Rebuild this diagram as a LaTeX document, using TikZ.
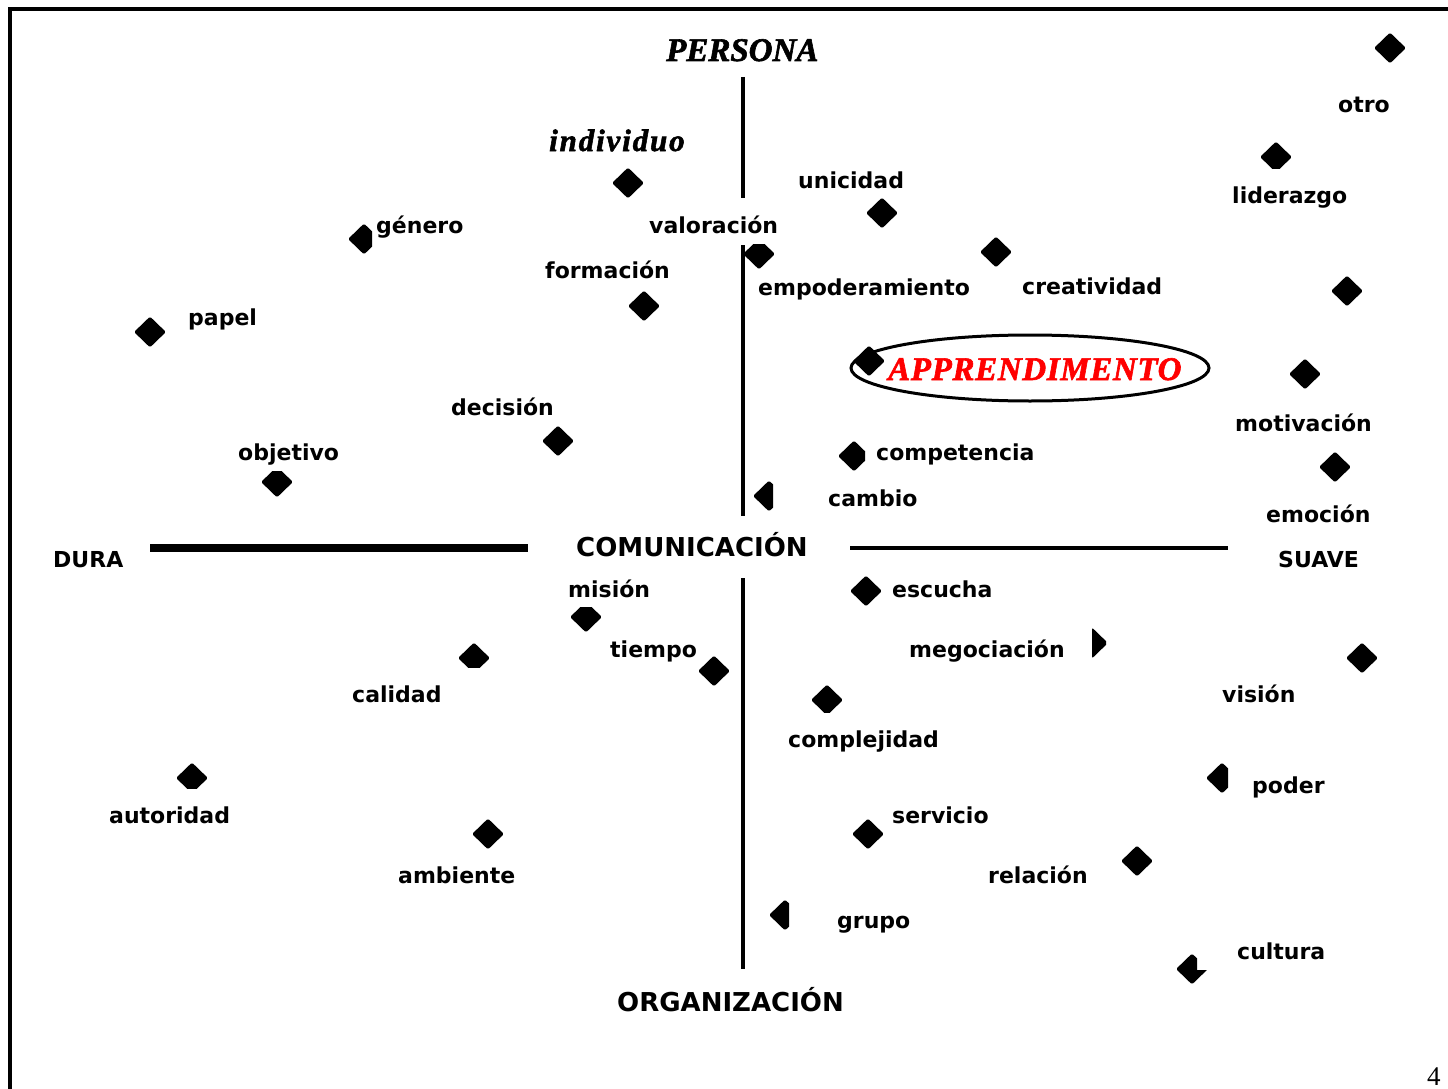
\documentclass[tikz,border=0pt]{standalone}
\usepackage{fontspec}
\setmainfont{DejaVu Sans}
\newfontfamily\timesbi{Liberation Serif Bold Italic}[FakeBold=1.8]
\newfontfamily\timesf{Liberation Serif}
\usetikzlibrary{shapes.geometric}
\begin{document}
\begin{tikzpicture}[x=1pt,y=-1pt,
  dia/.style={diamond, fill=black, minimum width=32pt, minimum height=31pt, inner sep=0pt, rounded corners=1.5pt},
  lbl/.style={anchor=base west, inner sep=0pt, font=\fontsize{22}{26}\selectfont\bfseries},
  big/.style={anchor=base west, inner sep=0pt, font=\fontsize{26}{30}\selectfont\bfseries},
  ital/.style={anchor=base west, inner sep=0pt},
  axis/.style={line width=3.5pt}]
\useasboundingbox (0,0) rectangle (1448,1089);
% frame
\coordinate (fb) at (10,1095);
\coordinate (fc) at (10,9);
\coordinate (fr) at (1455,9);
\draw[line width=3.5pt, line join=miter] (fb) -- (fc) -- (fr);

% axes
\coordinate (v1a) at (743,77);  \coordinate (v1b) at (743,198);
\coordinate (v2a) at (743,245); \coordinate (v2b) at (743,516);
\coordinate (v3a) at (743,578); \coordinate (v3b) at (743,969);
\coordinate (hLa) at (150,548); \coordinate (hLb) at (528,548);
\coordinate (hRa) at (850,548); \coordinate (hRb) at (1228,548);
\draw[axis] (v1a) -- (v1b);
\draw[axis] (v2a) -- (v2b);
\draw[axis] (v3a) -- (v3b);
\draw[line width=8pt] (hLa) -- (hLb);
\draw[line width=4pt] (hRa) -- (hRb);

% diamonds (full)
\node[dia] (dotro) at (1390,48) {};
\node[dia] (dunic) at (882,213) {};
\node[dia] (dcrea) at (996,252) {};
\node[dia] (dform) at (644,306) {};
\node[dia] (d1347) at (1347,291) {};
\node[dia] (dpapel) at (150,332) {};
\node[dia] (dapp) at (869,361) {};
\node[dia] (dmotiv) at (1305,374) {};
\node[dia] (ddecis) at (558,441) {};
\node[dia] (democ) at (1335,467) {};
\node[dia] (descu) at (866,591) {};
\node[dia] (dtiem) at (714,671) {};
\node[dia] (dvision) at (1362,658) {};
\node[dia] (dambi) at (488,834) {};
\node[dia] (dserv) at (868,834) {};
\node[dia] (drel) at (1137,861) {};

% diamonds (clipped)
\begin{scope}\clip (1240,120) rectangle (1310,168); \node[dia] (dlider) at (1276,157) {};\end{scope}
\begin{scope}\clip (600,150) rectangle (660,198); \node[dia] (dindiv) at (628,183) {};\end{scope}
\begin{scope}\clip (330,200) rectangle (372,270); \node[dia] (dgen) at (364,239) {};\end{scope}
\begin{scope}\clip (745,244) rectangle (800,290); \node[dia] (dval) at (759,254) {};\end{scope}
\begin{scope}\clip (250,471) rectangle (310,520); \node[dia] (dobj) at (277,482) {};\end{scope}
\begin{scope}\clip (820,430) rectangle (865,490); \node[dia] (dcomp) at (854,456) {};\end{scope}
\begin{scope}\clip (740,470) rectangle (773,520); \node[dia] (dcamb) at (769,496) {};\end{scope}
\begin{scope}\clip (560,607) rectangle (620,650); \node[dia] (dmis) at (586,617) {};\end{scope}
\begin{scope}\clip (1092,620) rectangle (1106,665); \node[dia] (dmego) at (1092,643) {};\end{scope}
\begin{scope}\clip (440,630) rectangle (510,667); \node[dia] (dcal) at (474,658) {};\end{scope}
\begin{scope}\clip (800,670) rectangle (860,712); \node[dia] (dcomplej) at (827,700) {};\end{scope}
\begin{scope}\clip (160,750) rectangle (225,788); \node[dia] (dauto) at (192,778) {};\end{scope}
\begin{scope}\clip (1190,750) rectangle (1228,810); \node[dia] (dpod) at (1222,778) {};\end{scope}
\begin{scope}\clip (750,890) rectangle (789,940); \node[dia] (dgrup) at (785,915) {};\end{scope}
\begin{scope}\clip (1160,940) -- (1197,940) -- (1197,970) -- (1230,970) -- (1230,1000) -- (1160,1000) -- cycle; \node[dia] (dcult) at (1192,969) {};\end{scope}

% ellipse
\node[ellipse, draw, line width=3pt, minimum width=358pt, minimum height=66pt, inner sep=0pt] (ell) at (1030,368) {};

% titles
\node[ital, font=\timesbi\fontsize{33}{36}\selectfont] (persona) at (666,61) {PERSONA};
\node[ital, font=\timesbi\fontsize{31}{34}\selectfont\addfontfeatures{LetterSpace=6}] (indiv) at (549,151) {individuo};
\node[ital, text=red, font=\timesbi\fontsize{33}{36}\selectfont\addfontfeatures{LetterSpace=2}] (app) at (888,380) {APPRENDIMENTO};
\node[big] (comu) at (576,556) {COMUNICACIÓN};
\node[big] (orga) at (617,1011) {ORGANIZACIÓN};
\node[ital, font=\timesf\fontsize{27}{30}\selectfont] (pnum) at (1427,1085) {4};

% labels
\node[lbl] (lotro) at (1338,113) {otro};
\node[lbl] (llider) at (1232,203) {liderazgo};
\node[lbl] (lunic) at (798,188) {unicidad};
\node[lbl] (lgen) at (376,233) {género};
\node[lbl] (lval) at (649,233) {valoración};
\node[lbl] (lform) at (545,278) {formación};
\node[lbl] (lempo) at (758,295) {empoderamiento};
\node[lbl] (lcrea) at (1022,294) {creatividad};
\node[lbl] (lpapel) at (188,325) {papel};
\node[lbl] (ldecis) at (451,415) {decisión};
\node[lbl] (lmotiv) at (1235,431) {motivación};
\node[lbl] (lobj) at (238,460) {objetivo};
\node[lbl] (lcomp) at (876,460) {competencia};
\node[lbl] (lcamb) at (828,506) {cambio};
\node[lbl] (lemoc) at (1266,522) {emoción};
\node[lbl] (ldura) at (53,567) {DURA};
\node[lbl] (lsuave) at (1278,567) {SUAVE};
\node[lbl] (lmis) at (568,597) {misión};
\node[lbl] (lescu) at (892,597) {escucha};
\node[lbl] (ltiem) at (610,657) {tiempo};
\node[lbl] (lmego) at (909,657) {megociación};
\node[lbl] (lvision) at (1222,702) {visión};
\node[lbl] (lcal) at (352,702) {calidad};
\node[lbl] (lcomplej) at (788,747) {complejidad};
\node[lbl] (lpod) at (1252,793) {poder};
\node[lbl] (lauto) at (109,823) {autoridad};
\node[lbl] (lserv) at (892,823) {servicio};
\node[lbl] (lambi) at (398,883) {ambiente};
\node[lbl] (lrel) at (988,883) {relación};
\node[lbl] (lgrup) at (837,928) {grupo};
\node[lbl] (lcult) at (1237,959) {cultura};
\end{tikzpicture}
\end{document}
